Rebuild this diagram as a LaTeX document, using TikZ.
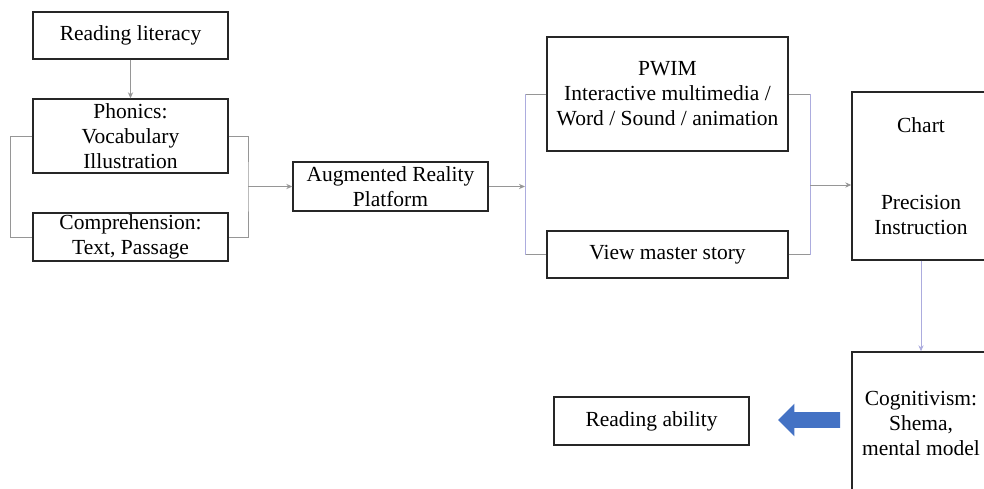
\documentclass[tikz,border=0pt]{standalone}
\usepackage{fontspec}
\setmainfont{Liberation Serif}
\usetikzlibrary{arrows.meta,shapes.arrows}

\definecolor{linegray}{RGB}{150,150,150}
\definecolor{linelav}{RGB}{172,172,222}
\definecolor{arrowblue}{RGB}{68,114,196}

\begin{document}
\begin{tikzpicture}[x=0.5pt,y=-0.5pt,
	box/.style={draw=black!85,line width=0.7pt,inner sep=0pt,align=center},
	conn/.style={draw=linegray,line width=0.45pt},
	arr/.style={conn,-{Stealth[length=3pt,width=2.6pt]}},
	font=\fontsize{10.75}{12.5}\selectfont]

	\useasboundingbox (0,0) rectangle (984,488);

	\node (lit) [box,minimum width=97.5pt,minimum height=23.5pt] at (130.5,35.5) {Reading literacy};
	\node (phon) [box,minimum width=97.5pt,minimum height=37pt] at (130.5,136) {Phonics:\\Vocabulary\\Illustration};
	\node (comp) [box,minimum width=97.5pt,minimum height=24pt] at (130.5,237) {Comprehension:\\Text, Passage};
	\node (aug) [box,minimum width=97.5pt,minimum height=24.5pt] at (390.5,186.5) {Augmented Reality\\Platform};
	\node (pwim) [box,minimum width=120.5pt,minimum height=57pt] at (667.5,94) {PWIM\\Interactive multimedia /\\Word / Sound / animation};
	\node (view) [box,minimum width=120.5pt,minimum height=23.5pt] at (667.5,254.5) {View master story};
	\node (chart) [box,minimum width=69pt,minimum height=84pt] at (921,176) {Chart\\[26pt]Precision\\Instruction};
	\node (cog) [box,minimum width=69pt,minimum height=71pt] at (921,423) {Cognitivism:\\Shema,\\mental model};
	\node (abil) [box,minimum width=97.5pt,minimum height=24pt] at (651.5,421) {Reading ability};

	\coordinate (jl) at (248,186.5);
	\coordinate (jm) at (525,186.5);
	\coordinate (jr) at (810,185);

	\draw[arr] (lit) -- (phon);
	\draw[conn] (phon.west) -- ++(-22,0) |- (comp.west);
	\draw[conn] (phon.east) -| (jl) |- (comp.east);
	\draw[arr] (jl) -- (aug);

	\draw[arr] (aug) -- (jm);
	\draw[conn] (pwim.west) -| (jm) |- (view.west);
	\draw[conn,draw=linelav] (jm |- pwim.west) -- (jm |- view.west);
	\draw[conn] (pwim.east) -| (jr) |- (view.east);
	\draw[conn,draw=linelav] (jr |- pwim.east) -- (jr |- view.east);
	\draw[arr] (jr) -- (jr -| chart.west);

	\draw[arr,draw=linelav] (chart) -- (cog);

	\node (big) [single arrow,shape border rotate=180,fill=arrowblue,inner xsep=0pt,inner ysep=3.75pt,
		minimum height=31pt,minimum width=16pt,single arrow head extend=4.25pt] at (813,420) {};
\end{tikzpicture}
\end{document}
